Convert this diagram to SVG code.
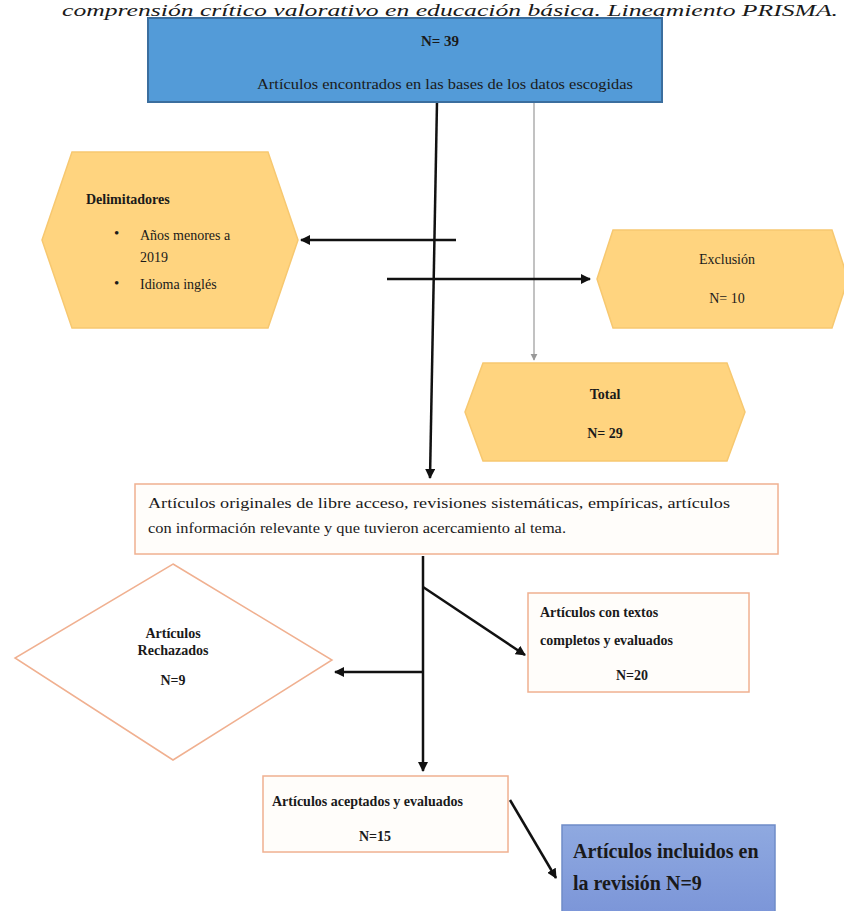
<svg xmlns="http://www.w3.org/2000/svg" width="844" height="911" viewBox="0 0 844 911">
<defs>
<style>
.t{font-family:"Liberation Serif","Times New Roman",serif;fill:#1a1a1a;}
.b{font-weight:bold;}
.hex{fill:#ffd47f;stroke:#f7c870;stroke-width:1.5;}
.obox{fill:#fffdfa;stroke:#f0b090;stroke-width:1.5;}
.ln{stroke:#111;stroke-width:2.5;fill:none;}
</style>
<marker id="ah" viewBox="0 0 10 10" refX="9" refY="5" markerWidth="4" markerHeight="4" orient="auto" markerUnits="strokeWidth">
<path d="M0,0 L10,5 L0,10 z" fill="#111"/>
</marker>
<marker id="ahg" viewBox="0 0 10 10" refX="9" refY="5" markerWidth="6" markerHeight="6" orient="auto" markerUnits="strokeWidth">
<path d="M0,0 L10,5 L0,10 z" fill="#999"/>
</marker>
<linearGradient id="bg2" x1="0" y1="0" x2="0" y2="1">
<stop offset="0" stop-color="#8fa9e0"/>
<stop offset="1" stop-color="#7b95d8"/>
</linearGradient>
</defs>
<rect width="844" height="911" fill="#fff"/>
<text class="t" x="62" y="16" font-size="17" font-style="italic" textLength="776" lengthAdjust="spacingAndGlyphs">comprensión crítico valorativo en educación básica. Lineamiento PRISMA.</text>

<g id="connectors">
<line class="ln" x1="437" y1="102" x2="430" y2="478" marker-end="url(#ah)"/>
<line x1="534" y1="102" x2="534" y2="360" stroke="#999" stroke-width="1.2" marker-end="url(#ahg)"/>
<line class="ln" x1="456" y1="240" x2="301" y2="240" marker-end="url(#ah)"/>
<line class="ln" x1="387" y1="279" x2="590" y2="279" marker-end="url(#ah)"/>
<line class="ln" x1="423" y1="556" x2="423" y2="771" marker-end="url(#ah)"/>
<line class="ln" x1="423" y1="587" x2="525" y2="655" marker-end="url(#ah)"/>
<line class="ln" x1="423" y1="672" x2="335" y2="672" marker-end="url(#ah)"/>
<line class="ln" x1="510" y1="800" x2="556" y2="878" marker-end="url(#ah)"/>
</g>

<g id="n_total39">
<rect x="148" y="18" width="514" height="84" fill="#539bd8" stroke="#3b6e9e" stroke-width="2"/>
<text class="t b" x="440" y="46" font-size="15" text-anchor="middle">N= 39</text>
<text class="t" x="445" y="89" font-size="15" text-anchor="middle" textLength="376" lengthAdjust="spacingAndGlyphs">Artículos encontrados en las bases de los datos escogidas</text>
</g>

<g id="n_delimitadores">
<polygon class="hex" points="72,152 268,152 298,240 268,328 72,328 42,240"/>
<text class="t b" x="86" y="204" font-size="14">Delimitadores</text>
<text class="t" x="114" y="238" font-size="15">•</text>
<text class="t" x="140" y="240" font-size="14">Años menores a</text>
<text class="t" x="140" y="262" font-size="14">2019</text>
<text class="t" x="114" y="288" font-size="15">•</text>
<text class="t" x="140" y="289" font-size="14">Idioma inglés</text>
</g>

<g id="n_exclusion">
<polygon class="hex" points="613,230 832,230 848,279 832,328 613,328 597,279"/>
<text class="t" x="727" y="264" font-size="14" text-anchor="middle">Exclusión</text>
<text class="t" x="727" y="303" font-size="14" text-anchor="middle">N= 10</text>
</g>

<g id="n_total29">
<polygon class="hex" points="483,363 727,363 745,412 727,461 483,461 465,412"/>
<text class="t b" x="605" y="399" font-size="14" text-anchor="middle">Total</text>
<text class="t b" x="605" y="438" font-size="14" text-anchor="middle">N= 29</text>
</g>

<g id="n_criterios">
<rect class="obox" x="135" y="484" width="643" height="70"/>
<text class="t" x="148" y="508" font-size="15" textLength="582" lengthAdjust="spacingAndGlyphs">Artículos originales de libre acceso, revisiones sistemáticas, empíricas, artículos</text>
<text class="t" x="148" y="533" font-size="15" textLength="418" lengthAdjust="spacingAndGlyphs">con información relevante y que tuvieron acercamiento al tema.</text>
</g>

<g id="n_rechazados">
<polygon points="173,564 332,660 173,760 15,658" fill="#fff" stroke="#f0b090" stroke-width="1.5"/>
<text class="t b" x="173" y="638" font-size="14" text-anchor="middle">Artículos</text>
<text class="t b" x="173" y="655" font-size="14" text-anchor="middle">Rechazados</text>
<text class="t b" x="173" y="685" font-size="14" text-anchor="middle">N=9</text>
</g>

<g id="n_completos">
<rect class="obox" x="528" y="593" width="221" height="99"/>
<text class="t b" x="540" y="617" font-size="14">Artículos con textos</text>
<text class="t b" x="540" y="645" font-size="14">completos y evaluados</text>
<text class="t b" x="632" y="680" font-size="14" text-anchor="middle">N=20</text>
</g>

<g id="n_aceptados">
<rect class="obox" x="263" y="776" width="245" height="76"/>
<text class="t b" x="272" y="806" font-size="14">Artículos aceptados y evaluados</text>
<text class="t b" x="375" y="841" font-size="14" text-anchor="middle">N=15</text>
</g>

<g id="n_incluidos">
<rect x="562" y="825" width="213" height="92" fill="url(#bg2)" stroke="#6f8cc8" stroke-width="1.5"/>
<text class="t b" x="573" y="858" font-size="20">Artículos incluidos en</text>
<text class="t b" x="573" y="890" font-size="20">la revisión N=9</text>
</g>
</svg>
